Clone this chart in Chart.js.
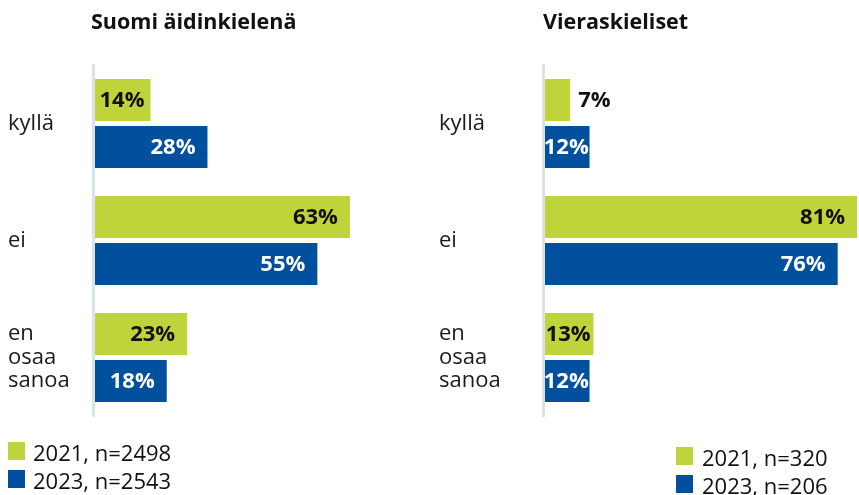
<!DOCTYPE html>
<html>
<head>
<meta charset="utf-8">
<script src="https://cdn.jsdelivr.net/npm/chart.js@4/dist/chart.umd.min.js"></script>
<style>
    body { margin: 0; background: #fff; font-family: 'Open Sans', sans-serif; color: #111; }
    #wrap { position: relative; width: 859px; height: 495px; overflow: hidden; }
    .panel { position: absolute; top: 0; }
    .title { position: absolute; font-weight: 700; font-size: 21.5px; line-height: 21px; color: #111; white-space: nowrap; }
    .legend { position: absolute; font-size: 22px; line-height: 22px; color: #111; }
    .legend-item { position: relative; height: 28px; white-space: nowrap; }
    .legend-box { position: absolute; left: 0; width: 17px; height: 18px; }
    .legend-text { position: absolute; }
</style>
</head>
<body>
<div id="wrap">
    <div class="panel" style="left:0; width:430px; height:460px;"><canvas id="chartLeft"></canvas></div>
    <div class="panel" style="left:430px; width:429px; height:460px;"><canvas id="chartRight"></canvas></div>
    <div class="title" id="titleLeft" style="left:91px; top:10px;"></div>
    <div class="title" id="titleRight" style="left:543px; top:10px;"></div>
    <div class="legend" id="legendLeft" style="left:8px; top:441px;"></div>
    <div class="legend" id="legendRight" style="left:676px; top:446px;"></div>
</div>
<script>
// Categories
const categories = ['kyllä', 'ei', ['en', 'osaa', 'sanoa']];

// Suomi äidinkielenä
const titleSuomi = 'Suomi äidinkielenä';
const seriesSuomi = ['2021, n=2498', '2023, n=2543'];
const suomi2021 = [14, 63, 23];
const suomi2023 = [28, 55, 18];

// Vieraskieliset
const titleVieras = 'Vieraskieliset';
const seriesVieras = ['2021, n=320', '2023, n=206'];
const vieras2021 = [7, 81, 13];
const vieras2023 = [12, 76, 12];

const green = '#bfd33a';
const blue = '#00509e';

// value labels at the bar ends
const barLabels = {
    id: 'barLabels',
    afterDatasetsDraw(chart) {
        const ctx = chart.ctx;
        ctx.save();
        ctx.font = '700 22px "Open Sans"';
        ctx.textBaseline = 'middle';
        chart.data.datasets.forEach((ds, di) => {
            chart.getDatasetMeta(di).data.forEach((bar, i) => {
                const text = ds.data[i] + '%';
                const w = ctx.measureText(text).width;
                const barW = bar.x - bar.base;
                if (w <= barW + 1) {
                    const pad = Math.max(0, Math.min(12, (barW - w) / 2));
                    ctx.textAlign = 'right';
                    ctx.fillStyle = di === 0 ? '#111' : '#fff';
                    ctx.fillText(text, bar.x - pad, bar.y + 1);
                } else {
                    ctx.textAlign = 'left';
                    ctx.fillStyle = '#111';
                    ctx.fillText(text, bar.x + 8, bar.y + 1);
                }
            });
        });
        ctx.restore();
    }
};

function makeChart(id, data2021, data2023, labels, axisWidth, padLeft, padRight, xMax) {
    return new Chart(document.getElementById(id), {
        type: 'bar',
        data: {
            labels: categories,
            datasets: [
                { label: labels[0], data: data2021, backgroundColor: green },
                { label: labels[1], data: data2023, backgroundColor: blue }
            ]
        },
        options: {
            indexAxis: 'y',
            responsive: true,
            maintainAspectRatio: false,
            animation: false,
            categoryPercentage: 0.803,
            barPercentage: 0.894,
            layout: { padding: { left: padLeft, right: padRight, top: 65, bottom: 44 } },
            plugins: {
                legend: { display: false },
                tooltip: { enabled: false }
            },
            scales: {
                x: { display: false, min: 0, max: xMax },
                y: {
                    grid: { display: false },
                    border: { display: true, color: '#d8e3ea', width: 3, z: 1 },
                    ticks: {
                        crossAlign: 'far',
                        padding: 0,
                        color: '#1a1a1a',
                        font: { family: 'Open Sans', size: 22, lineHeight: 1.07 }
                    },
                    afterFit(scale) { scale.width = axisWidth; }
                }
            }
        },
        plugins: [barLabels]
    });
}

function makeLegend(id, labels) {
    const el = document.getElementById(id);
    [green, blue].forEach((c, i) => {
        const item = document.createElement('div');
        item.className = 'legend-item';
        item.innerHTML = '<span class="legend-box" style="background:' + c + '; top:1px;"></span>' +
            '<span class="legend-text" style="left:' + (id === 'legendLeft' ? 25 : 26) + 'px;">' + labels[i] + '</span>';
        el.appendChild(item);
    });
}

document.getElementById('titleLeft').textContent = titleSuomi;
document.getElementById('titleRight').textContent = titleVieras;
makeLegend('legendLeft', seriesSuomi);
makeLegend('legendRight', seriesVieras);

makeChart('chartLeft', suomi2021, suomi2023, seriesSuomi, 85.5, 8, 10.9, 80);
makeChart('chartRight', vieras2021, vieras2023, seriesVieras, 104, 9, 0, 81.5);
</script>
</body>
</html>
